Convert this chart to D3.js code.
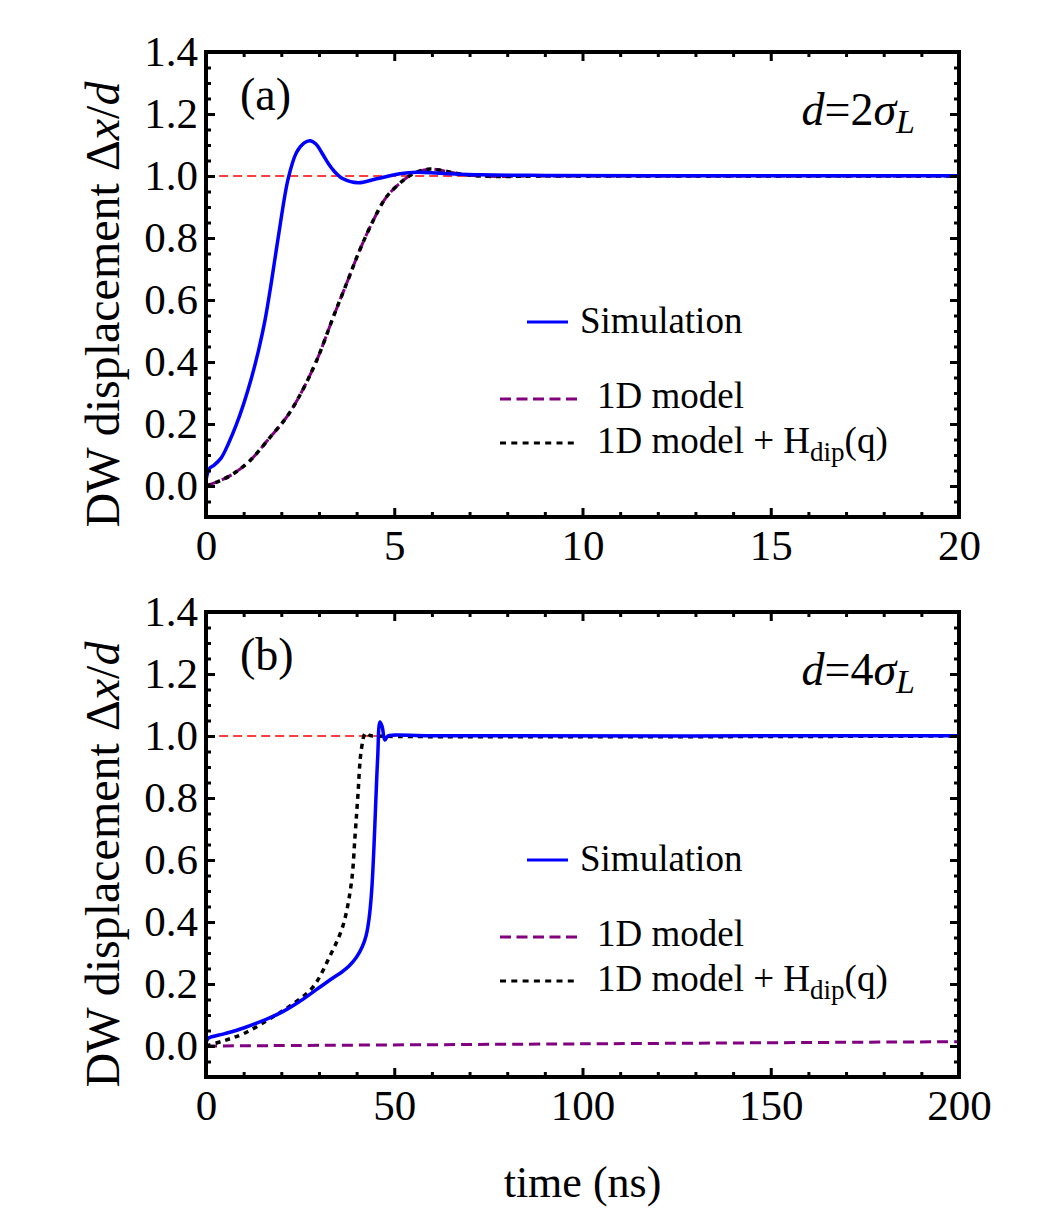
<!DOCTYPE html>
<html>
<head>
<meta charset="utf-8">
<script src="https://cdnjs.cloudflare.com/ajax/libs/d3/7.8.5/d3.min.js"></script>
<style>
  body { margin: 0; background: #fff; }
  svg { display: block; }
  text { font-family: "Liberation Serif", "Times New Roman", serif; fill: #000; }
</style>
</head>
<body>
<svg id="chart" width="1042" height="1215"></svg>
<script>
// ---- data: [time, displacement] ----
const simA = [[0,0.02],[0.1,0.058],[0.2,0.066],[0.4,0.09],[0.6,0.138],[0.8,0.196],[1.0,0.265],
  [1.2,0.345],[1.4,0.44],[1.56,0.53],[1.74,0.66],[1.96,0.835],[2.18,0.99],[2.4,1.075],
  [2.6,1.106],[2.76,1.114],[2.92,1.103],[3.1,1.07],[3.25,1.04],[3.4,1.016],[3.64,0.991],
  [4.04,0.978],[4.53,0.991],[5.15,1.007],[5.59,1.012],[6.2,1.009],[7.3,1.004],[9,1.002],[12,1.001],[20,1.001]];
const modelA = [[0,0],[0.35,0.016],[0.72,0.039],[1.17,0.082],[1.7,0.157],[2.14,0.222],[2.49,0.292],
  [2.94,0.405],[3.38,0.545],[3.73,0.652],[4.08,0.76],[4.44,0.856],[4.79,0.932],[5.23,0.985],
  [5.5,1.007],[5.9,1.022],[6.3,1.017],[6.83,1.005],[7.5,0.999],[9,1.0],[20,1.0]];
const dipA = [[0,0],[0.35,0.016],[0.72,0.039],[1.17,0.082],[1.7,0.157],[2.14,0.222],[2.49,0.292],
  [2.94,0.405],[3.38,0.545],[3.73,0.652],[4.08,0.76],[4.44,0.856],[4.79,0.932],[5.23,0.985],
  [5.5,1.007],[5.9,1.022],[6.3,1.017],[6.83,1.005],[7.5,0.999],[9,1.0],[20,1.0]];

const simB = [[0,0.01],[0.5,0.024],[1.1,0.028],[5,0.04],[10,0.058],[19.6,0.106],[25,0.145],
  [30,0.188],[34,0.222],[36,0.238],[38,0.258],[40,0.287],[41.5,0.32],[42.5,0.355],[43.3,0.41],
  [44,0.5],[44.6,0.64],[45.1,0.79],[45.6,0.93],[46.2,1.045],[46.8,1.03],[47.5,0.987],[48.3,1.0],
  [50,1.003],[60,1.001],[200,1.001]];
const modelB = [[0,0],[100,0.007],[200,0.014]];
const dipB = [[0,0],[5,0.018],[10,0.04],[17.8,0.094],[23,0.135],[28.4,0.19],[32.9,0.29],
  [36.3,0.385],[38.6,0.525],[39.6,0.68],[40.3,0.8],[41.3,0.96],[42.4,1.01],[43.5,1.002],[45,1.0],[200,1.0]];

const yMajor = [0, 0.2, 0.4, 0.6, 0.8, 1.0, 1.2, 1.4];
const xMajorA = [0, 5, 10, 15, 20];
const xMajorB = [0, 50, 100, 150, 200];
const legendNames = ["Simulation", "1D model", "1D model + "];

const svg = d3.select("#chart");
const left = 206, right = 959;
const panelH = 465;

function drawPanel(top, xMax, xMajor, xMinorStep, series, tag, dval, legendTop) {
  const x = d3.scaleLinear().domain([0, xMax]).range([left, right]);
  const y = d3.scaleLinear().domain([-0.1, 1.4]).range([top + panelH, top]);
  const g = svg.append("g");

  const clipId = "clip" + tag;
  g.append("clipPath").attr("id", clipId).append("rect")
    .attr("x", left).attr("y", top).attr("width", right - left).attr("height", panelH);

  // ref line at 1
  g.append("line")
    .attr("x1", x(xMax * 0.0175)).attr("x2", right).attr("y1", y(1)).attr("y2", y(1))
    .attr("stroke", "#ff0000").attr("stroke-width", 1.5).attr("stroke-dasharray", "9,5");

  const line = d3.line().x(d => x(d[0])).y(d => y(d[1])).curve(d3.curveCatmullRom.alpha(0.5));
  const plot = g.append("g").attr("clip-path", `url(#${clipId})`);
  plot.append("path").datum(series.model).attr("d", line).attr("fill", "none")
    .attr("stroke", "#800080").attr("stroke-width", 3).attr("stroke-dasharray", "11,6");
  plot.append("path").datum(series.dip).attr("d", line).attr("fill", "none")
    .attr("stroke", "#000").attr("stroke-width", 3.5).attr("stroke-dasharray", "5,5");
  plot.append("path").datum(series.sim).attr("d", line).attr("fill", "none")
    .attr("stroke", "#0000ff").attr("stroke-width", 3.5);

  // ticks
  const yMinor = d3.range(-0.1, 1.401, 0.05).map(v => +v.toFixed(2)).filter(v => !yMajor.some(m => Math.abs(m - v) < 1e-6));
  const xMinor = d3.range(0, xMax + 1e-9, xMinorStep).filter(v => !xMajor.includes(v));
  const yFmt = d3.format(".1f");

  const axes = [
    [d3.axisLeft(y).tickValues(yMajor).tickSize(-9).tickPadding(8).tickFormat(yFmt), `translate(${left},0)`],
    [d3.axisLeft(y).tickValues(yMinor).tickSize(-5).tickFormat(""), `translate(${left},0)`],
    [d3.axisRight(y).tickValues(yMajor).tickSize(-9).tickFormat(""), `translate(${right},0)`],
    [d3.axisRight(y).tickValues(yMinor).tickSize(-5).tickFormat(""), `translate(${right},0)`],
    [d3.axisBottom(x).tickValues(xMajor).tickSize(-9).tickPadding(12).tickFormat(d3.format("d")), `translate(0,${top + panelH})`],
    [d3.axisBottom(x).tickValues(xMinor).tickSize(-5).tickFormat(""), `translate(0,${top + panelH})`],
    [d3.axisTop(x).tickValues(xMajor).tickSize(-9).tickFormat(""), `translate(0,${top})`],
    [d3.axisTop(x).tickValues(xMinor).tickSize(-5).tickFormat(""), `translate(0,${top})`]
  ];
  axes.forEach(([ax, tr]) => {
    const a = g.append("g").attr("transform", tr).call(ax);
    a.select(".domain").remove();
    a.selectAll(".tick line").attr("stroke", "#000").attr("stroke-width", 3);
    a.selectAll("text").attr("font-size", 43).attr("font-family", '"Liberation Serif", serif').attr("fill", "#000");
  });
  // frame
  g.append("rect").attr("x", left).attr("y", top).attr("width", right - left).attr("height", panelH)
    .attr("fill", "none").attr("stroke", "#000").attr("stroke-width", 4);

  // panel tag
  g.append("text").attr("x", 240).attr("y", top + 58).attr("font-size", 46).text(`(${tag})`);
  const dt = g.append("text").attr("x", 915).attr("y", top + 73).attr("font-size", 46).attr("text-anchor", "end");
  dt.append("tspan").attr("font-style", "italic").text("d");
  dt.append("tspan").text("=" + dval);
  dt.append("tspan").attr("font-style", "italic").text("σ");
  dt.append("tspan").attr("font-style", "italic").attr("font-size", 34).attr("dy", 8).text("L");

  // y label
  const yl = g.append("text")
    .attr("transform", `translate(119,${top + panelH / 2 + 20}) rotate(-90)`)
    .attr("text-anchor", "middle").attr("font-size", 48);
  yl.append("tspan").text("DW displacement ");
  yl.append("tspan").text("Δ");
  yl.append("tspan").attr("font-style", "italic").text("x");
  yl.append("tspan").text("/");
  yl.append("tspan").attr("font-style", "italic").text("d");

  // legend
  const lg = g.append("g").attr("font-size", 37);
  lg.append("line").attr("x1", 527).attr("x2", 568).attr("y1", legendTop).attr("y2", legendTop)
    .attr("stroke", "#0000ff").attr("stroke-width", 3);
  lg.append("text").attr("x", 580).attr("y", legendTop + 11).text(legendNames[0]);
  lg.append("line").attr("x1", 500).attr("x2", 578).attr("y1", legendTop + 77).attr("y2", legendTop + 77)
    .attr("stroke", "#800080").attr("stroke-width", 3).attr("stroke-dasharray", "11,5.5");
  lg.append("text").attr("x", 597).attr("y", legendTop + 86).text(legendNames[1]);
  lg.append("line").attr("x1", 500).attr("x2", 578).attr("y1", legendTop + 121).attr("y2", legendTop + 121)
    .attr("stroke", "#000").attr("stroke-width", 3).attr("stroke-dasharray", "6,5.3");
  const t3 = lg.append("text").attr("x", 597).attr("y", legendTop + 131);
  t3.append("tspan").text(legendNames[2] + "H");
  t3.append("tspan").attr("font-size", 27).attr("dy", 8).text("dip");
  t3.append("tspan").attr("dy", -8).text("(q)");
}

drawPanel(52, 20, xMajorA, 1, { sim: simA, model: modelA, dip: dipA }, "a", "2", 322);
drawPanel(612, 200, xMajorB, 10, { sim: simB, model: modelB, dip: dipB }, "b", "4", 860);

svg.append("text").attr("x", (left + right) / 2).attr("y", 1197)
  .attr("text-anchor", "middle").attr("font-size", 44).text("time (ns)");
</script>
</body>
</html>
